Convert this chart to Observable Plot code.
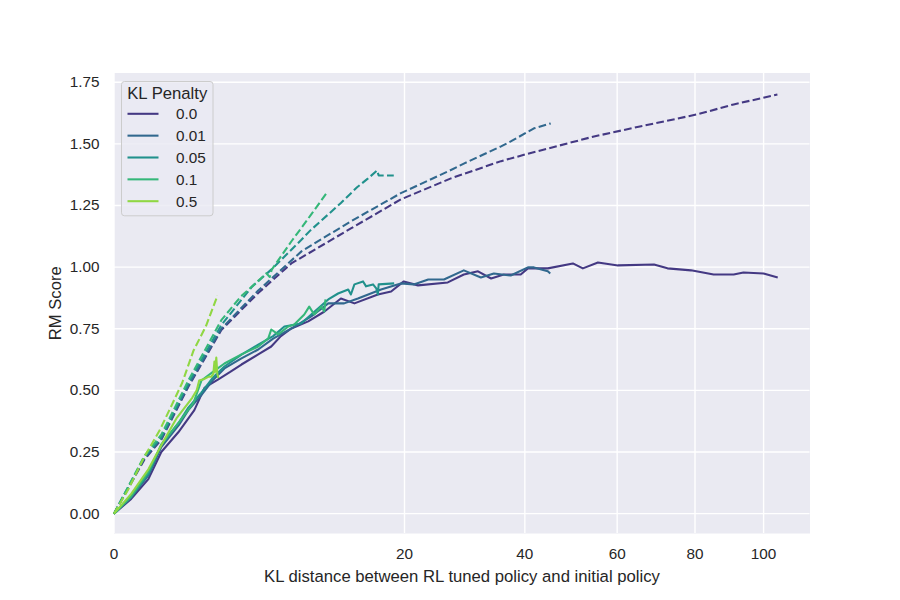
<!DOCTYPE html>
<html><head><meta charset="utf-8">
<script src="https://cdn.jsdelivr.net/npm/d3@7"></script>
<script src="https://cdn.jsdelivr.net/npm/@observablehq/plot@0.6"></script>
<style>
body{margin:0;background:#fff;}
#wrap{position:relative;width:900px;height:600px;font-family:"Liberation Sans",Arial,sans-serif;color:#262626;}
#legend{position:absolute;left:120.5px;top:80.5px;}
</style></head><body><div id="wrap"></div>
<script>
// ---- data ----
const penalties = ["0.0", "0.01", "0.05", "0.1", "0.5"];
const colors = ["#443983", "#31688e", "#21918c", "#35b779", "#90d743"];
const xTicks = [0, 20, 40, 60, 80, 100];
const yTicks = [0, 0.25, 0.5, 0.75, 1.0, 1.25, 1.5, 1.75];
const legendTitle = "KL Penalty";
const xLabel = "KL distance between RL tuned policy and initial policy";
const yLabel = "RM Score";

// solid lines (gold RM score), [KL, score]
const gold_0_0 = [[0,0],[0.07,0.06],[0.28,0.14],[0.53,0.25],[0.98,0.33],[1.53,0.42],[1.94,0.51],[2.2,0.525],[2.58,0.545],[3.2,0.575],[3.85,0.605],[4.93,0.646],[5.86,0.678],[6.6,0.72],[7.45,0.751],[8.94,0.78],[10.5,0.82],[12.2,0.873],[13.7,0.853],[16.5,0.889],[18.2,0.901],[19.9,0.942],[21.9,0.926],[26.4,0.938],[29.0,0.970],[31.4,0.983],[33.7,0.954],[36.0,0.970],[39.2,0.970],[40.6,0.995],[44.6,0.995],[49.9,1.015],[52.1,0.995],[55.5,1.019],[60.2,1.007],[69.1,1.011],[72.6,0.995],[78.9,0.987],[85.2,0.970],[91.0,0.970],[93.9,0.978],[100,0.974],[104.4,0.958]];
const gold_0_01 = [[0,0],[0.07,0.065],[0.28,0.155],[0.53,0.27],[1.0,0.36],[1.31,0.42],[1.8,0.48],[2.3,0.54],[2.89,0.589],[3.85,0.63],[4.93,0.666],[6.0,0.71],[7.45,0.751],[9.22,0.80],[10.88,0.853],[12.55,0.853],[14.1,0.873],[16.9,0.909],[19.5,0.934],[21.3,0.930],[23.4,0.950],[25.8,0.950],[29.0,0.987],[31.9,0.958],[34.2,0.974],[37.3,0.966],[40.6,0.999],[41.8,0.999],[44.6,0.983],[45.1,0.974]];
const gold_0_05 = [[0,0],[0.07,0.07],[0.28,0.16],[0.53,0.28],[1.0,0.37],[1.31,0.43],[1.8,0.49],[2.3,0.55],[2.89,0.597],[3.85,0.645],[4.93,0.686],[6.0,0.72],[6.88,0.759],[8.3,0.771],[9.22,0.808],[10.88,0.869],[11.9,0.893],[13.0,0.909],[13.3,0.889],[13.7,0.930],[14.7,0.942],[15.06,0.922],[15.9,0.930],[16.3,0.914],[16.5,0.889],[16.6,0.930],[18.6,0.934]];
const gold_0_1 = [[0,0],[0.07,0.07],[0.28,0.17],[0.53,0.28],[1.0,0.37],[1.5,0.45],[1.81,0.54],[2.4,0.58],[2.89,0.609],[3.85,0.646],[4.93,0.678],[5.64,0.711],[5.86,0.747],[6.39,0.727],[7.2,0.759],[7.70,0.767],[8.58,0.808],[9.03,0.840],[9.5,0.808],[10.18,0.840],[10.48,0.820],[10.6,0.869]];
const gold_0_5 = [[0,0],[0.07,0.08],[0.28,0.18],[0.6,0.30],[0.94,0.39],[1.45,0.47],[1.62,0.50],[1.72,0.54],[1.9,0.545],[2.11,0.555],[2.25,0.556],[2.34,0.568],[2.39,0.617],[2.42,0.575],[2.48,0.633],[2.53,0.568],[2.58,0.55]];

// dashed lines (proxy RM score), [KL, score]
const proxy_0_0 = [[0,0],[0.22,0.22],[0.53,0.30],[1.31,0.515],[2.73,0.745],[4.93,0.895],[7.45,1.015],[13.3,1.157],[19.5,1.275],[26.9,1.36],[35.5,1.43],[40.6,1.46],[54.6,1.53],[64.0,1.565],[80.7,1.62],[91.0,1.66],[104.3,1.70]];
const proxy_0_01 = [[0,0],[0.22,0.225],[0.53,0.305],[1.31,0.52],[2.73,0.75],[4.93,0.905],[8.33,1.064],[13.3,1.186],[19.5,1.30],[26.5,1.389],[29.0,1.42],[35.5,1.49],[37.3,1.51],[41.8,1.563],[45.2,1.583]];
const proxy_0_05 = [[0,0],[0.22,0.23],[0.53,0.31],[1.31,0.53],[2.73,0.765],[4.5,0.92],[5.86,0.99],[8.3,1.11],[9.14,1.149],[12.2,1.26],[14.0,1.324],[15.3,1.36],[16.4,1.392],[16.6,1.372],[18.55,1.372]];
const proxy_0_1 = [[0,0],[0.22,0.235],[0.53,0.32],[1.31,0.54],[2.73,0.785],[3.8,0.88],[4.67,0.93],[5.5,0.975],[5.75,0.96],[5.9,0.99],[7.45,1.104],[8.5,1.17],[9.22,1.214],[10.7,1.30]];
const proxy_0_5 = [[0,0],[0.05,0.1],[0.21,0.226],[0.5,0.34],[0.76,0.431],[1.1,0.53],[1.5,0.662],[2.0,0.76],[2.54,0.885]];

const goldSeries = [gold_0_0, gold_0_01, gold_0_05, gold_0_1, gold_0_5];
const proxySeries = [proxy_0_0, proxy_0_01, proxy_0_05, proxy_0_1, proxy_0_5];

// ---- build table ----
const rows = [];
penalties.forEach((p, i) => {
  goldSeries[i].forEach(([x, y]) => rows.push({penalty: p, kind: "gold", x, y}));
  proxySeries[i].forEach(([x, y]) => rows.push({penalty: p, kind: "proxy", x, y}));
});

const lineMarks = [];
penalties.forEach(p => {
  lineMarks.push(Plot.line(rows.filter(d => d.penalty === p && d.kind === "gold"),
    {x: "x", y: "y", stroke: "penalty", strokeWidth: 2.08, strokeLinejoin: "round", strokeLinecap: "butt"}));
  lineMarks.push(Plot.line(rows.filter(d => d.penalty === p && d.kind === "proxy"),
    {x: "x", y: "y", stroke: "penalty", strokeWidth: 2.08, strokeDasharray: "7.7,3.3", strokeLinejoin: "round", strokeLinecap: "butt"}));
});

const FONT = "Liberation Sans, Arial, sans-serif";
const chart = Plot.plot({
  width: 900, height: 600,
  marginLeft: 113.5, marginRight: 90.5, marginTop: 72.5, marginBottom: 67,
  style: {fontFamily: FONT, fontSize: "15.3px", color: "#262626", background: "transparent", overflow: "visible"},
  x: {type: "sqrt", domain: [0, 114.8]},
  y: {domain: [-0.0805, 1.7875]},
  color: {domain: penalties, range: colors},
  marks: [
    Plot.frame({fill: "#eaeaf2", stroke: "none"}),
    Plot.gridX(xTicks, {stroke: "#ffffff", strokeOpacity: 1, strokeWidth: 1.39}),
    Plot.gridY(yTicks, {stroke: "#ffffff", strokeOpacity: 1, strokeWidth: 1.39}),
    Plot.axisX(xTicks, {tickSize: 0, tickPadding: 14.4, label: null, fill: "#262626", fontSize: 15.3}),
    Plot.axisX({ticks: [], tickSize: 0, label: xLabel, labelAnchor: "center", labelArrow: "none", labelOffset: 48, fill: "#262626", fontSize: 16.7}),
    Plot.axisY(yTicks, {tickSize: 0, tickPadding: 14.5, tickFormat: d3.format(".2f"), label: null, fill: "#262626", fontSize: 15.3}),
    Plot.axisY({ticks: [], tickSize: 0, label: yLabel, labelAnchor: "center", labelArrow: "none", labelOffset: 65.2, fill: "#262626", fontSize: 16.7}),
    ...lineMarks
  ]
});
const wrap = document.getElementById("wrap");
wrap.appendChild(chart);

// ---- legend (overlay, matplotlib-style) ----
const lw = 91.5, lh = 134.3;
const leg = d3.select(wrap).append("svg").attr("id", "legend")
  .attr("width", lw + 2).attr("height", lh + 2)
  .style("font-family", FONT);
leg.append("rect").attr("x", 0.5).attr("y", 0.5).attr("width", lw).attr("height", lh)
  .attr("rx", 3).attr("fill", "#eaeaf2").attr("fill-opacity", 0.8).attr("stroke", "#cccccc").attr("stroke-width", 1);
leg.append("text").attr("x", lw / 2 + 0.5).attr("y", 12.2).attr("text-anchor", "middle").attr("dy", "0.35em")
  .attr("fill", "#262626").style("font-size", "16.7px").text(legendTitle);
penalties.forEach((p, i) => {
  const cy = 32.8 + i * 21.85;
  leg.append("line").attr("x1", 6.5).attr("x2", 37.5).attr("y1", cy).attr("y2", cy)
    .attr("stroke", colors[i]).attr("stroke-width", 2.08);
  leg.append("text").attr("x", 55).attr("y", cy).attr("dy", "0.35em").attr("fill", "#262626")
    .style("font-size", "15.3px").text(p);
});
</script>
</body></html>
